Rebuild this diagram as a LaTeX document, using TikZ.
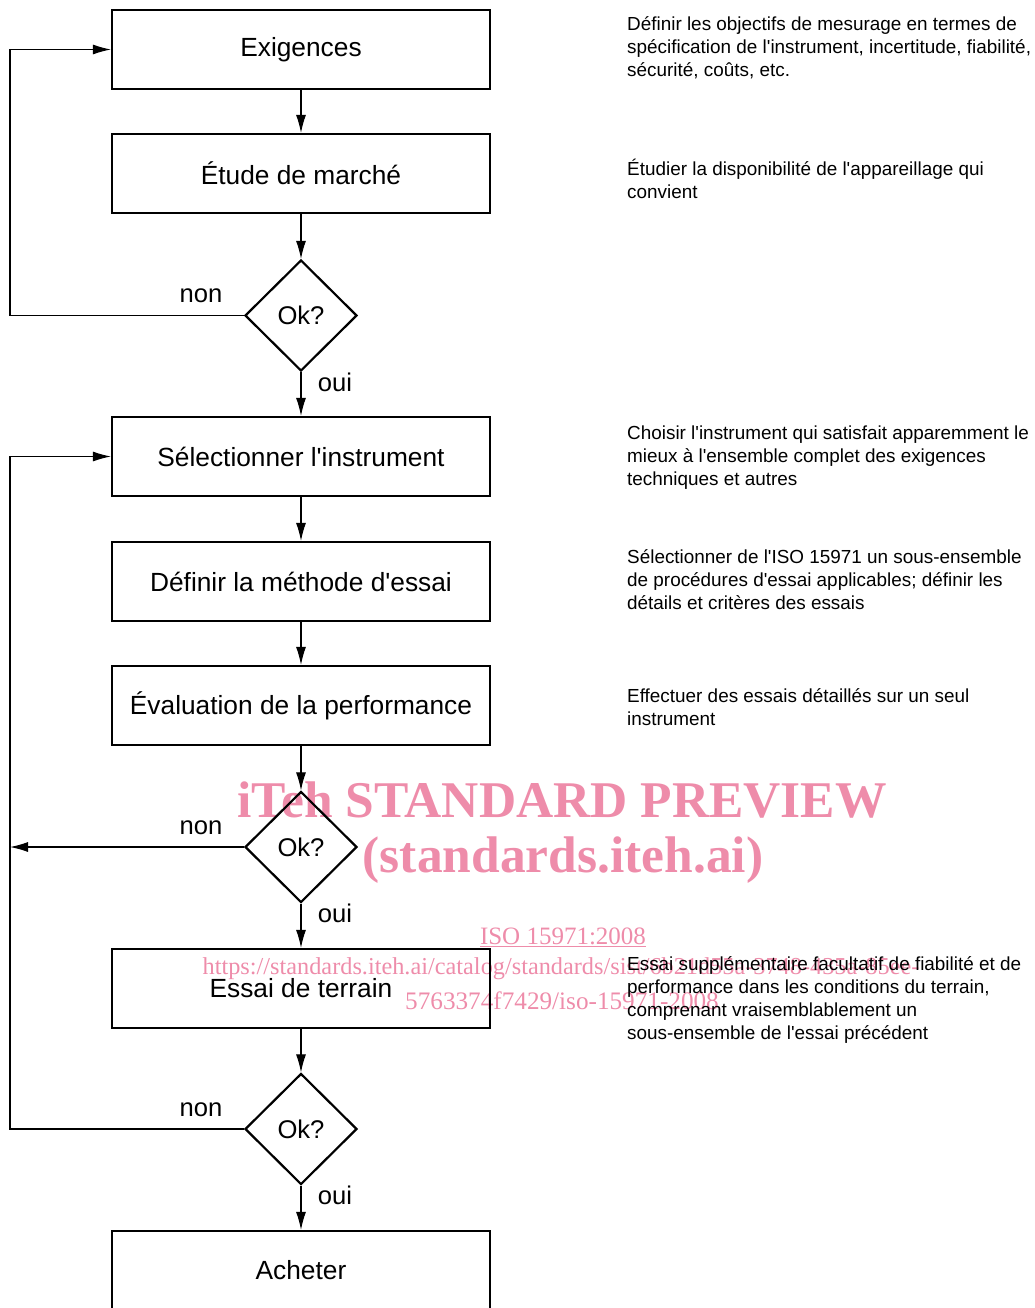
\documentclass[tikz,border=0pt]{standalone}
\usepackage{fontspec}
\setmainfont{Liberation Sans}[Ligatures=TeXOff]
\newfontfamily\stampfont{Liberation Serif}[Ligatures=TeXOff]
\usetikzlibrary{shapes.geometric,arrows.meta}

\definecolor{stamppink}{RGB}{238,140,170}

\tikzset{
    stepbox/.style={draw, line width=2.2pt, minimum width=378pt, minimum height=79pt, inner sep=0pt, font=\fontsize{26.3}{31}\selectfont},
    okbox/.style={draw, diamond, aspect=1, line width=2.2pt, minimum width=112pt, minimum height=111pt, inner sep=0pt, font=\fontsize{25.6}{30}\selectfont},
    answer/.style={inner sep=0pt, font=\fontsize{25.6}{30}\selectfont},
    note/.style={anchor=base west, align=left, inner sep=0pt, font=\fontsize{18.9}{23}\selectfont},
    flow/.style={line width=1.1pt, -{Latex[length=18pt,width=10pt]}},
    stamp/.style={inner sep=0pt, text=stamppink}
}

\begin{document}
\begin{tikzpicture}[x=1pt, y=-1pt]
            \useasboundingbox (0,0) rectangle (1034,1308);

            \node [stamp, font=\stampfont\bfseries\fontsize{51.5}{60}\selectfont] (wm1) at (562,800) {iTeh STANDARD PREVIEW};
            \node [stamp, font=\stampfont\bfseries\fontsize{51.5}{60}\selectfont] (wm2) at (563,860) {(standards.iteh.ai)};
            \node [stamp, font=\stampfont\fontsize{25}{30}\selectfont] (wm3) at (563,937) {\underline{ISO 15971:2008}};
            \node [stamp, font=\stampfont\fontsize{24.3}{30}\selectfont] (wm4) at (561,969) {https://standards.iteh.ai/catalog/standards/sist/6b21d55a-3748-435a-85ee-};
            \node [stamp, font=\stampfont\fontsize{25.2}{30}\selectfont] (wm5) at (562,1001) {5763374f7429/iso-15971-2008};

            \node [stepbox] (exig) at (301,49.5) {Exigences};
            \node [stepbox] (etude) at (301,173.5) {Étude de marché};
            \node [okbox] (ok1) at (301,315.5) {Ok?};
            \node [stepbox] (select) at (301,456.5) {Sélectionner l'instrument};
            \node [stepbox] (method) at (301,581.5) {Définir la méthode d'essai};
            \node [stepbox] (perf) at (301,705.5) {Évaluation de la performance};
            \node [okbox] (ok2) at (301,847) {Ok?};
            \node [stepbox] (field) at (301,988.5) {Essai de terrain};
            \node [okbox] (ok3) at (301,1129) {Ok?};
            \node [stepbox] (buy) at (301,1270.5) {Acheter};

            \coordinate (lane) at (10,0);

            \draw [flow] (exig) -- (etude);
            \draw [flow] (etude) -- (ok1);
            \draw [flow] (ok1) -- (select);
            \draw [flow] (select) -- (method);
            \draw [flow] (method) -- (perf);
            \draw [flow] (perf) -- (ok2);
            \draw [flow] (ok2) -- (field);
            \draw [flow] (field) -- (ok3);
            \draw [flow] (ok3) -- (buy);

            \draw [flow] (ok1.west) -- (ok1.west -| lane) |- (exig.west);
            \draw [flow] (ok2.west) -- (ok2.west -| lane);
            \draw [flow] (ok3.west) -- (ok3.west -| lane) |- (select.west);

            \node [answer] (non1) at ([xshift=-43pt,yshift=19.5pt]ok1.west) {non};
            \node [answer] (oui1) at ([xshift=34pt,yshift=-10pt]ok1.south) {oui};
            \node [answer] (non2) at ([xshift=-43pt,yshift=19.5pt]ok2.west) {non};
            \node [answer] (oui2) at ([xshift=34pt,yshift=-10pt]ok2.south) {oui};
            \node [answer] (non3) at ([xshift=-43pt,yshift=19.5pt]ok3.west) {non};
            \node [answer] (oui3) at ([xshift=34pt,yshift=-10pt]ok3.south) {oui};

            \node [note] (note1) at (627,77) {Définir les objectifs de mesurage en termes de\\spécification de l'instrument, incertitude, fiabilité,\\sécurité, coûts, etc.};
            \node [note] (note2) at (627,198) {Étudier la disponibilité de l'appareillage qui\\convient};
            \node [note] (note3) at (627,485) {Choisir l'instrument qui satisfait apparemment le\\mieux à l'ensemble complet des exigences\\techniques et autres};
            \node [note] (note4) at (627,609) {Sélectionner de l'ISO 15971 un sous-ensemble\\de procédures d'essai applicables; définir les\\détails et critères des essais};
            \node [note] (note5) at (627,725) {Effectuer des essais détaillés sur un seul\\instrument};
            \node [note] (note6) at (627,1039) {Essai supplémentaire facultatif de fiabilité et de\\performance dans les conditions du terrain,\\comprenant vraisemblablement un\\sous-ensemble de l'essai précédent};
\end{tikzpicture}
\end{document}
